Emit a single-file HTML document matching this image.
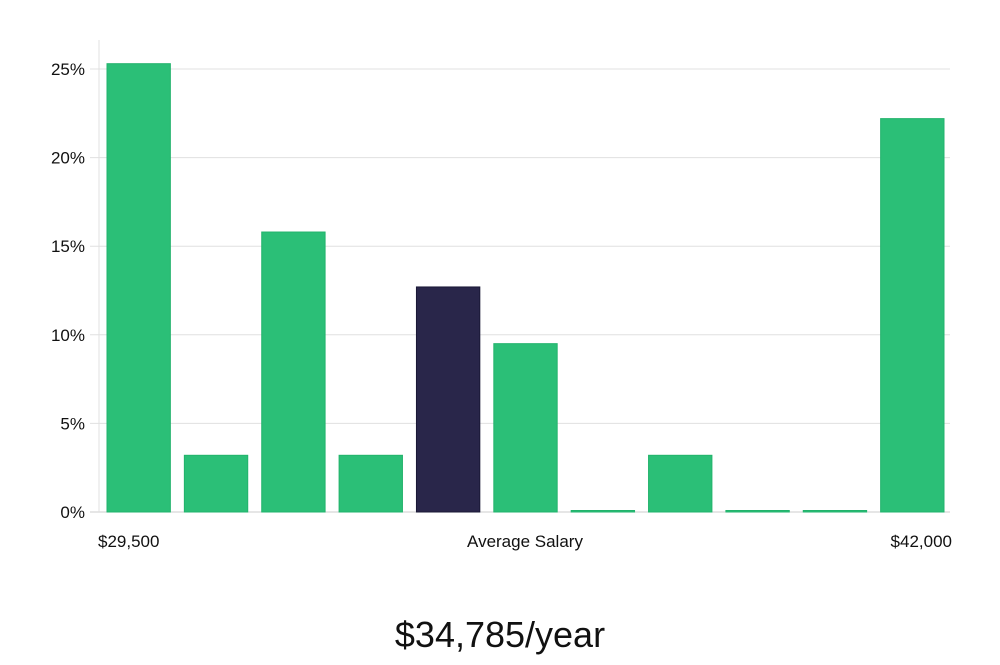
<!DOCTYPE html>
<html><head><meta charset="utf-8"><style>
body{margin:0;background:#fff;width:1000px;height:660px;overflow:hidden;font-family:"Liberation Sans","DejaVu Sans",sans-serif}
</style></head><body>
<svg width="1000" height="660" xmlns="http://www.w3.org/2000/svg">
<g id="grid"></g><g id="bars"></g><g id="labels"></g>
<text x="500" y="647" text-anchor="middle" font-size="36" fill="#111" font-family="Liberation Sans, sans-serif" style="font-weight:300">$34,785/year</text>
</svg>
<script>
const categories=["b1","b2","b3","b4","b5","b6","b7","b8","b9","b10","b11"];
const values=[25.3,3.2,15.8,3.2,12.7,9.5,0,3.2,0,0,22.2];
const highlightIndex=4;
const yTicks=[0,5,10,15,20,25];
const xLabels=["$29,500","Average Salary","$42,000"];
const ns="http://www.w3.org/2000/svg";
const X0=99,X1=950,Y0=512,PX=17.72;
const y=v=>Y0-v*PX;
const pitch=(X1-X0)/categories.length;
const bx=i=>X0+8+i*pitch;
function mk(t,a,p){const e=document.createElementNS(ns,t);for(const k in a)e.setAttribute(k,a[k]);p.appendChild(e);return e;}
const g=document.getElementById('grid'),b=document.getElementById('bars'),l=document.getElementById('labels');
yTicks.forEach(t=>{
 const ln=mk('line',{x1:90,x2:X1,y1:y(t),y2:y(t),stroke:t===0?'#ccc':'#e0e0e0','stroke-width':1},g);
 
 
 const tx=mk('text',{x:85,y:y(t)+6,'text-anchor':'end','font-size':17,fill:'#111'},l);
 tx.textContent=t+'%';
 
 
});
const ax=mk('line',{x1:X0,x2:X0,y1:40,y2:Y0,stroke:'#e0e0e0'},g);


values.forEach((v,i)=>{
 const h=Math.max(v*PX,1.5);
 const hi=i===highlightIndex;
 const r=mk('rect',{x:bx(i),y:Y0-h,width:pitch-14,height:h,fill:hi?'#29264a':'#2bbf77',stroke:hi?'#1a1836':'#22b36c','stroke-width':1},b);
 
 
});
[[98,'start'],[525,'middle'],[952,'end']].forEach((p,i)=>{
 const t=mk('text',{x:p[0],y:547,'text-anchor':p[1],'font-size':17,fill:'#111'},l);
 t.textContent=xLabels[i];
 
 
});
</script>
</body></html>
